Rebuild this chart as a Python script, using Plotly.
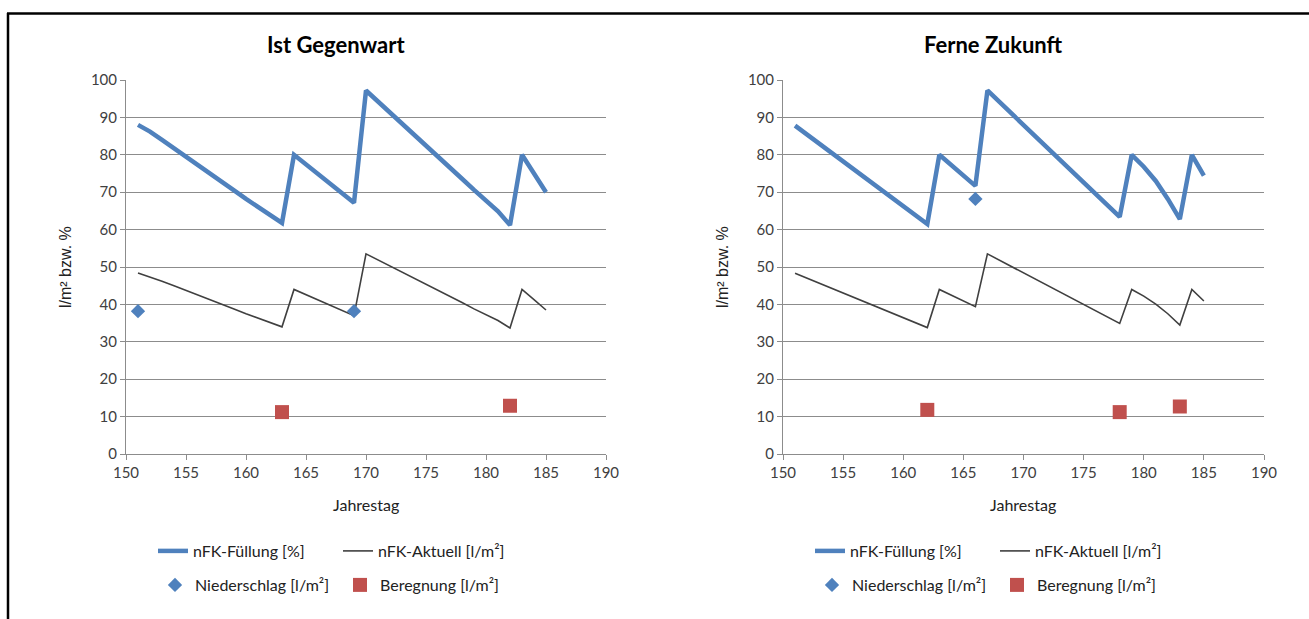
import plotly.graph_objects as go

# ---------------- data ----------------
days = [151, 152, 153, 154, 155, 156, 157, 158, 159, 160, 161, 162, 163, 164, 165, 166, 167, 168,
        169, 170, 171, 172, 173, 174, 175, 176, 177, 178, 179, 180, 181, 182, 183, 184, 185]

ist_fuellung = [88.0, 86.2, 84.0, 81.8, 79.6, 77.4, 75.0, 72.8, 70.5, 68.2, 66.0, 63.9, 61.8,
                80.0, 77.4, 74.8, 72.2, 69.6, 67.2,
                97.2, 94.3, 91.4, 88.4, 85.4, 82.5, 79.6, 76.6, 73.6, 70.6, 67.8, 64.9, 61.2,
                80.0, 75.0, 70.0]
ist_aktuell = [48.4, 47.4, 46.2, 45.0, 43.8, 42.6, 41.3, 40.0, 38.8, 37.5, 36.3, 35.1, 34.0,
               44.0, 42.6, 41.1, 39.7, 38.3, 37.0,
               53.5, 51.9, 50.3, 48.6, 47.0, 45.4, 43.8, 42.1, 40.5, 38.8, 37.3, 35.7, 33.7,
               44.0, 41.3, 38.5]
ist_nied_days = [151, 169]
ist_nied = [38.2, 38.2]
ist_ber_days = [163, 182]
ist_ber = [11.2, 12.9]

fz_fuellung = [87.8, 85.4, 83.0, 80.6, 78.2, 75.8, 73.4, 71.0, 68.6, 66.2, 63.8, 61.5,
               80.0, 77.2, 74.4, 71.7,
               97.2, 94.1, 91.0, 88.0, 84.9, 81.8, 78.7, 75.7, 72.6, 69.5, 66.5, 63.4,
               80.0, 76.8, 73.0, 68.2, 62.8,
               80.0, 74.4]
fz_aktuell = [48.3, 47.0, 45.7, 44.3, 43.0, 41.7, 40.4, 39.1, 37.7, 36.4, 35.1, 33.8,
              44.0, 42.5, 40.9, 39.4,
              53.5, 51.8, 50.1, 48.4, 46.7, 45.0, 43.3, 41.6, 39.9, 38.2, 36.6, 34.9,
              44.0, 42.2, 40.1, 37.5, 34.5,
              44.0, 40.9]
fz_nied_days = [166]
fz_nied = [68.2]
fz_ber_days = [162, 178, 183]
fz_ber = [11.8, 11.2, 12.7]

titles = ["Ist Gegenwart", "Ferne Zukunft"]
x_label = "Jahrestag"
y_label = "l/m² bzw. %"
names = ["nFK-Füllung [%]", "nFK-Aktuell [l/m²]", "Niederschlag [l/m²]", "Beregnung [l/m²]"]

# ---------------- styling ----------------
W, H = 1309, 619
BLUE = "#4F81BD"
RED = "#C0504D"
DARK = "#404040"
GRID = "#8C8C8C"
FONT = "Lato"


def px(x):
    return x / W


def py(y):
    return 1 - y / H


fig = go.Figure()

panels = [
    dict(f=ist_fuellung, a=ist_aktuell, nd=ist_nied_days, n=ist_nied, bd=ist_ber_days, b=ist_ber,
         xa="x", ya="y", lg=("legend", "legend2")),
    dict(f=fz_fuellung, a=fz_aktuell, nd=fz_nied_days, n=fz_nied, bd=fz_ber_days, b=fz_ber,
         xa="x2", ya="y2", lg=("legend3", "legend4")),
]

for p in panels:
    fig.add_trace(go.Scatter(x=days, y=p["f"], mode="lines", name=names[0],
                             line=dict(color=BLUE, width=4.5), xaxis=p["xa"], yaxis=p["ya"],
                             legend=p["lg"][0]))
    fig.add_trace(go.Scatter(x=days, y=p["a"], mode="lines", name=names[1],
                             line=dict(color=DARK, width=1.6), xaxis=p["xa"], yaxis=p["ya"],
                             legend=p["lg"][0]))
    fig.add_trace(go.Scatter(x=p["nd"], y=p["n"], mode="markers", name=names[2],
                             marker=dict(symbol="diamond", color=BLUE, size=11),
                             xaxis=p["xa"], yaxis=p["ya"], legend=p["lg"][1]))
    fig.add_trace(go.Scatter(x=p["bd"], y=p["b"], mode="markers", name=names[3],
                             marker=dict(symbol="square", color=RED, size=14),
                             xaxis=p["xa"], yaxis=p["ya"], legend=p["lg"][1]))

tickfont = dict(family=FONT, size=15, color=DARK)
xcommon = dict(range=[150, 190], dtick=5, tick0=150, showgrid=False, showline=True,
               linecolor=GRID, linewidth=1, ticks="outside", ticklen=5, tickcolor=GRID,
               tickfont=tickfont, zeroline=False, fixedrange=True, automargin=False)
ycommon = dict(range=[0, 100], dtick=10, tick0=0, showgrid=True, gridcolor=GRID, gridwidth=1,
               showline=True, linecolor=GRID, linewidth=1, ticks="outside", ticklen=5,
               tickcolor=GRID, tickfont=tickfont, zeroline=False, fixedrange=True,
               automargin=False)

ydom = [py(454), py(80)]
fig.update_layout(
    xaxis=dict(domain=[px(126), px(606)], anchor="y", **xcommon),
    yaxis=dict(domain=ydom, anchor="x", **ycommon),
    xaxis2=dict(domain=[px(783), px(1264)], anchor="y2", **xcommon),
    yaxis2=dict(domain=ydom, anchor="x2", **ycommon),
)

legend_common = dict(orientation="h", xanchor="left", yanchor="middle", entrywidth=140,
                     entrywidthmode="pixels", bgcolor="rgba(0,0,0,0)", borderwidth=0,
                     font=dict(family=FONT, size=16, color="#222222"), traceorder="normal")
fig.update_layout(
    legend=dict(x=px(153), y=py(551), **legend_common),
    legend2=dict(x=px(155), y=py(585), **legend_common),
    legend3=dict(x=px(810), y=py(551), **legend_common),
    legend4=dict(x=px(812), y=py(585), **legend_common),
)

annotations = []
for cx, t in zip([336, 993], titles):
    annotations.append(dict(x=px(cx), y=py(44), xref="paper", yref="paper", text=f"<b>{t}</b>",
                            showarrow=False, xanchor="center", yanchor="middle",
                            font=dict(family=FONT, size=22, color="#000000")))
for cx in [366, 1023]:
    annotations.append(dict(x=px(cx), y=py(504), xref="paper", yref="paper", text=x_label,
                            showarrow=False, xanchor="center", yanchor="middle",
                            font=dict(family=FONT, size=16, color="#222222")))
for cx in [66, 723]:
    annotations.append(dict(x=px(cx), y=py(267), xref="paper", yref="paper", text=y_label,
                            showarrow=False, textangle=-90, xanchor="center", yanchor="middle",
                            font=dict(family="Liberation Sans", size=16, color="#222222")))

shapes = [
    dict(type="line", xref="paper", yref="paper", x0=px(7), x1=1.0, y0=py(13.5), y1=py(13.5),
         line=dict(color="black", width=2.5)),
    dict(type="line", xref="paper", yref="paper", x0=px(8), x1=px(8), y0=py(13), y1=0.0,
         line=dict(color="black", width=2.5)),
]

fig.update_layout(width=W, height=H,
                  margin=dict(l=0, r=0, t=0, b=0, pad=0, autoexpand=False),
                  paper_bgcolor="white", plot_bgcolor="white", showlegend=True,
                  annotations=annotations, shapes=shapes)

fig.write_html("out.html")
